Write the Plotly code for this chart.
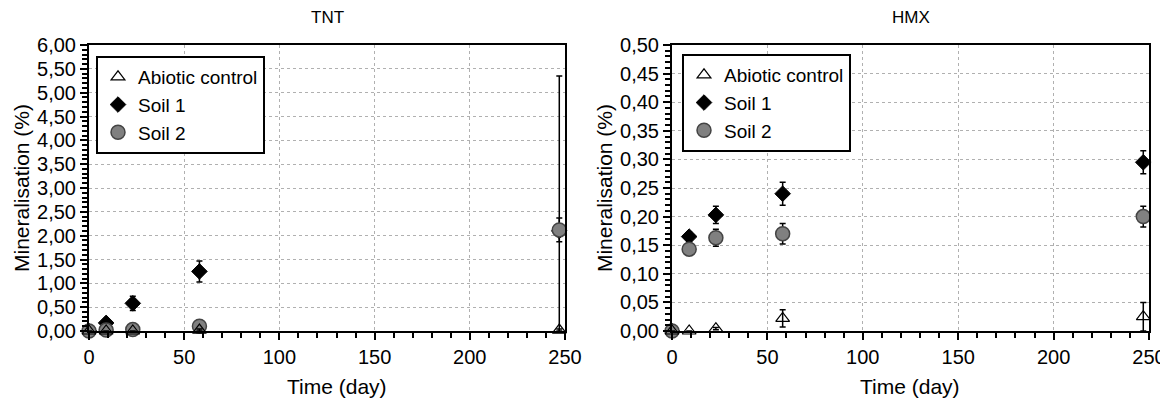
import plotly.graph_objects as go

days = [0, 9, 23, 58, 247]

# TNT
tnt_abiotic = [0.0, 0.0, 0.0, 0.02, 0.02]
tnt_abiotic_err = [0.0, 0.0, 0.0, 0.02, 0.02]
tnt_soil1 = [0.0, 0.17, 0.58, 1.25, 2.1]
tnt_soil1_err = [0.0, 0.05, 0.15, 0.22, 3.25]
tnt_soil2 = [0.0, 0.02, 0.03, 0.1, 2.12]
tnt_soil2_err = [0.0, 0.01, 0.02, 0.03, 0.25]

# HMX
hmx_abiotic = [0.0, 0.0, 0.004, 0.022, 0.025]
hmx_abiotic_err = [0.0, 0.0, 0.002, 0.015, 0.025]
hmx_soil1 = [0.0, 0.165, 0.203, 0.24, 0.295]
hmx_soil1_err = [0.0, 0.008, 0.015, 0.02, 0.02]
hmx_soil2 = [0.0, 0.143, 0.163, 0.17, 0.2]
hmx_soil2_err = [0.0, 0.01, 0.015, 0.018, 0.018]

titles = ["TNT", "HMX"]
names = ["Abiotic control", "Soil 1", "Soil 2"]
x_title = "Time (day)"
y_title = "Mineralisation (%)"

# page body has an 8px margin: lay out in window pixels, convert to paper
OFF = 8
W, H = 1168 - OFF, 400 - OFF

def px(x):
    return (x - OFF) / W

def py(y):
    return (400 - y) / H

fig = go.Figure()

def add_series(xax, yax, legend, ys, errs):
    styles = [
        dict(symbol="triangle-up-open", size=12, color="black", line=dict(color="black", width=1.2)),
        dict(symbol="diamond", size=12, color="black", line=dict(color="black", width=1)),
        dict(symbol="circle", size=14, color="#808080", line=dict(color="#444444", width=1.5)),
    ]
    order = [1, 2, 0]
    for i in order:
        fig.add_trace(go.Scatter(
            x=days, y=ys[i], mode="markers", name=names[i],
            xaxis=xax, yaxis=yax, legend=legend, legendrank=i + 1,
            marker=styles[i], cliponaxis=False,
            error_y=dict(type="data", array=errs[i], color="black", thickness=1.5, width=3),
        ))

add_series("x", "y", "legend", [tnt_abiotic, tnt_soil1, tnt_soil2],
           [tnt_abiotic_err, tnt_soil1_err, tnt_soil2_err])
add_series("x2", "y2", "legend2", [hmx_abiotic, hmx_soil1, hmx_soil2],
           [hmx_abiotic_err, hmx_soil1_err, hmx_soil2_err])

font = dict(family="Liberation Sans, Arial, sans-serif", color="black")

xcommon = dict(range=[0, 250], dtick=50, tick0=0, showline=True, linecolor="black", linewidth=2,
               mirror=True, ticks="outside", ticklen=7, tickwidth=2, tickcolor="black",
               showgrid=True, gridcolor="#b0b0b0", griddash="dot", gridwidth=1,
               minor=dict(dtick=10, ticks="outside", ticklen=5, tickwidth=2, tickcolor="black"),
               tickfont=dict(size=20), zeroline=False, automargin=False)
ycommon = dict(showline=True, linecolor="black", linewidth=2, mirror=True,
               ticks="outside", ticklen=7, tickwidth=1.5, tickcolor="black",
               showgrid=True, gridcolor="#b0b0b0", griddash="dot", gridwidth=1,
               tickfont=dict(size=20), zeroline=False, tickformat=".2f", automargin=False,
               title=dict(text=y_title, font=dict(size=21), standoff=2))

legcommon = dict(xanchor="left", yanchor="top", xref="paper", yref="paper",
                 bordercolor="black", borderwidth=2, bgcolor="white",
                 font=dict(size=19), tracegroupgap=0, itemwidth=30,
                 traceorder="normal", itemclick=False)

fig.update_layout(
    width=W, height=H,
    margin=dict(l=0, r=0, t=0, b=0),
    paper_bgcolor="white", plot_bgcolor="white",
    font=font, separators=",.",
    showlegend=True,
    xaxis=dict(domain=[px(89), px(565)], anchor="y", **xcommon),
    yaxis=dict(domain=[py(331), py(45)], anchor="x", range=[0, 6], dtick=0.5,
               minor=dict(dtick=0.1, ticks="outside", ticklen=5, tickwidth=1.5, tickcolor="black"),
               **ycommon),
    xaxis2=dict(domain=[px(672), px(1149)], anchor="y2", **xcommon),
    yaxis2=dict(domain=[py(331), py(45)], anchor="x2", range=[0, 0.5], dtick=0.05,
                minor=dict(dtick=0.01, ticks="outside", ticklen=5, tickwidth=1.5, tickcolor="black"),
                **ycommon),
    legend=dict(x=px(96), y=py(56), **legcommon),
    legend2=dict(x=px(682), y=py(54), **legcommon),
)

for t, cx in zip(titles, [327, 911]):
    fig.add_annotation(text=t, x=px(cx), y=py(17), xref="paper", yref="paper",
                       showarrow=False, font=dict(size=17), xanchor="center", yanchor="middle")
for cx in [337, 910]:
    fig.add_annotation(text=x_title, x=px(cx), y=py(386), xref="paper", yref="paper",
                       showarrow=False, font=dict(size=21), xanchor="center", yanchor="middle")

fig.write_html("out.html")
